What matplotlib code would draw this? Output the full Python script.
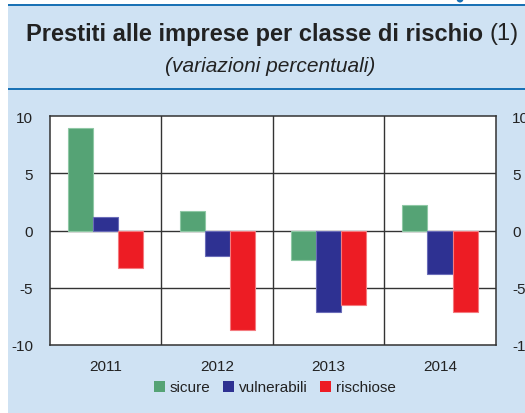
import matplotlib
matplotlib.use("Agg")
import matplotlib.pyplot as plt
from matplotlib.patches import Rectangle, Ellipse
import numpy as np

years = ["2011", "2012", "2013", "2014"]
series_names = ["sicure", "vulnerabili", "rischiose"]
sicure = [9.0, 1.7, -2.55, 2.2]
vulnerabili = [1.15, -2.25, -7.1, -3.85]
rischiose = [-3.3, -8.7, -6.55, -7.15]
yticks = [-10, -5, 0, 5, 10]

colors = ["#55a375", "#2e3192", "#ed1c24"]
edge_colors = ["#8fc8a5", "#6a6cb8", "#f47a7f"]
bg = "#cfe2f3"
line_blue = "#1a72b5"

plt.rcParams["font.family"] = ["Liberation Sans", "DejaVu Sans"]

W, H = 525, 414
fig = plt.figure(figsize=(W / 100, H / 100), dpi=100)
fig.patch.set_facecolor("white")

def px_rect(x0, y0, x1, y1, color):
    fig.patches.append(Rectangle((x0 / W, 1 - y1 / H), (x1 - x0) / W, (y1 - y0) / H,
                                 transform=fig.transFigure, facecolor=color,
                                 edgecolor="none", zorder=-5))

px_rect(8, 7, W, H, bg)
px_rect(8, 4.8, W, 7.4, line_blue)
px_rect(8, 88.6, W, 90.8, line_blue)
fig.patches.append(Ellipse((460 / W, 1 - 0 / H), 7 / W, 7 / H, transform=fig.transFigure,
                           facecolor=line_blue, edgecolor="none", zorder=-4))

ax = fig.add_axes([50 / W, 1 - 345.7 / H, 445.7 / W, 228.4 / H])
ax.set_zorder(3)
ax.set_facecolor("white")
x = np.arange(len(years))
w = 0.225
for i, (vals, c, ec) in enumerate(zip([sicure, vulnerabili, rischiose], colors, edge_colors)):
    ax.bar(x + (i - 1) * w, vals, width=w, color=c, edgecolor=ec, linewidth=0.8,
           label=series_names[i], zorder=3)

ax.set_xlim(-0.5, len(years) - 0.5)
ax.set_ylim(-10, 10)
ax.set_yticks(yticks)
ax.set_yticklabels([str(t) for t in yticks])
ax.set_xticks(x)
ax.set_xticklabels(years)
for yv in [-5, 0, 5]:
    ax.axhline(yv, color="#333333", linewidth=1.0, zorder=2)
for xv in [0.5, 1.5, 2.5]:
    ax.axvline(xv, color="#333333", linewidth=1.0, zorder=2)
for s in ax.spines.values():
    s.set_color("#333333")
    s.set_linewidth(1.1)
ax.tick_params(axis="both", length=0, labelsize=11, colors="#222222")
ax.tick_params(axis="y", labelright=True, pad=12)
ax.tick_params(axis="x", pad=10)

handles = [Rectangle((0, 0), 1, 1, facecolor=c, edgecolor="none") for c in colors]
fig.legend(handles, series_names, loc="center", bbox_to_anchor=(275 / W, 1 - 388.5 / H),
           ncol=3, frameon=False, fontsize=11, handlelength=0.7, handleheight=0.7,
           handletextpad=0.3, columnspacing=0.85, labelcolor="#222222")

# Title: bold part + normal "(1)", centred together
t1 = fig.text(0, 1 - 34 / H, "Prestiti alle imprese per classe di rischio ", fontsize=17,
              fontweight="bold", ha="left", va="center", color="#222222")
t2 = fig.text(0, 1 - 34 / H, "(1)", fontsize=17, ha="left", va="center", color="#222222")
fig.canvas.draw()
r = fig.canvas.get_renderer()
w1 = t1.get_window_extent(r).width
w2 = t2.get_window_extent(r).width
start = 272 - (w1 + w2) / 2
t1.set_x(start / W)
t2.set_x((start + w1) / W)
fig.text(270 / W, 1 - 66 / H, "(variazioni percentuali)", fontsize=15, style="italic",
         ha="center", va="center", color="#222222")

fig.savefig("out.png", dpi=100, facecolor=fig.get_facecolor())
